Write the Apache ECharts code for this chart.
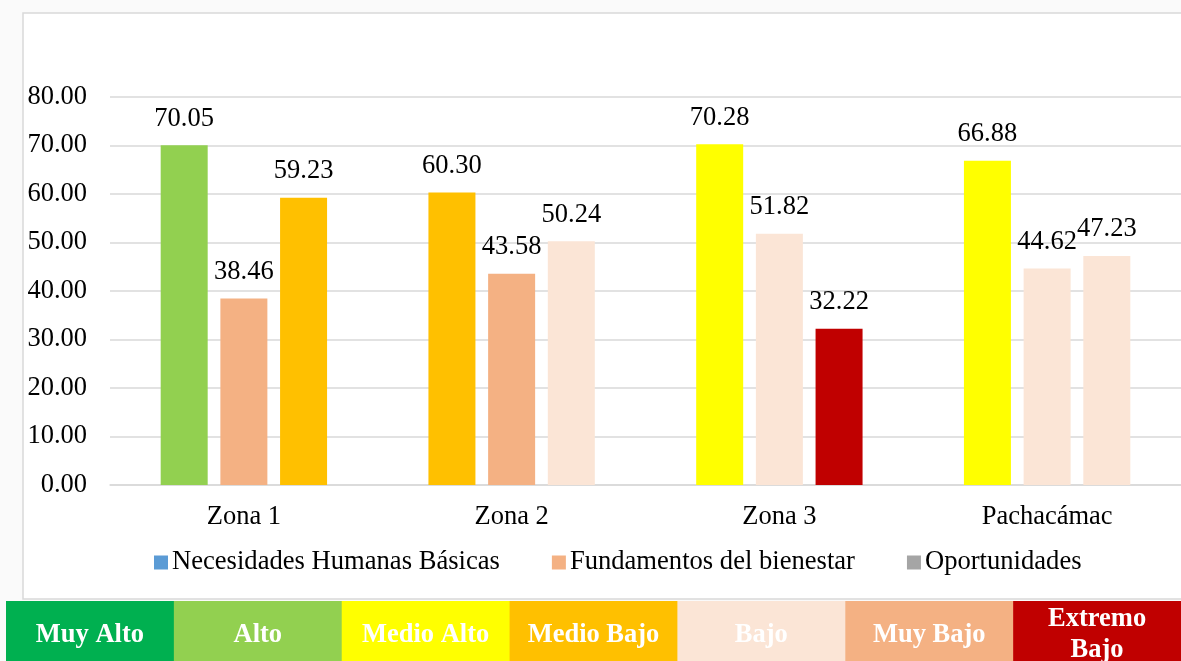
<!DOCTYPE html>
<html><head><meta charset="utf-8">
<script src="https://cdn.jsdelivr.net/npm/echarts@6/dist/echarts.min.js"></script>
<style>html,body{margin:0;padding:0;background:#fafafa;}#c{width:1181px;height:661px;}</style>
</head><body><div id="c"></div>
<script>
const categories = ['Zona 1', 'Zona 2', 'Zona 3', 'Pachacámac'];
const seriesNames = ['Necesidades Humanas Básicas', 'Fundamentos del bienestar', 'Oportunidades'];
const necesidades = [70.05, 60.30, 70.28, 66.88];
const fundamentos = [38.46, 43.58, 51.82, 44.62];
const oportunidades = [59.23, 50.24, 32.22, 47.23];
const necesidadesNivel = ['Alto', 'Medio Bajo', 'Medio Alto', 'Medio Alto'];
const fundamentosNivel = ['Muy Bajo', 'Muy Bajo', 'Bajo', 'Bajo'];
const oportunidadesNivel = ['Medio Bajo', 'Bajo', 'Extremo Bajo', 'Bajo'];
const niveles = ['Muy Alto', 'Alto', 'Medio Alto', 'Medio Bajo', 'Bajo', 'Muy Bajo', 'Extremo Bajo'];
const nivelColors = {'Muy Alto':'#00B050','Alto':'#92D050','Medio Alto':'#FFFF00','Medio Bajo':'#FFC000','Bajo':'#FBE5D6','Muy Bajo':'#F4B183','Extremo Bajo':'#C00000'};
const legendColors = ['#5B9BD5', '#F4B183', '#A5A5A5'];
const yTicks = {min: 0, max: 80, interval: 10};

const FONT = '"Liberation Serif", "Times New Roman", serif';
const chart = echarts.init(document.getElementById('c'));

function mk(name, vals, lv, color) {
  return {
    name: name, type: 'bar', barWidth: 47, barGap: '27%', color: color,
    data: vals.map((v, i) => ({value: v, itemStyle: {color: nivelColors[lv[i]]}})),
    label: {show: true, position: 'top', distance: 13, color: '#000', fontFamily: FONT, fontSize: 26.5,
      formatter: p => p.value.toFixed(2)}
  };
}

const graphics = [
  {type: 'rect', shape: {x: 23, y: 13, width: 1170, height: 586}, style: {fill: '#fff', stroke: '#d9d9d9', lineWidth: 1.5}, z: -10}
];
const boxX0 = 6, boxW = (1181 - 6) / niveles.length;
niveles.forEach((n, i) => {
  graphics.push({type: 'rect', shape: {x: boxX0 + i * boxW, y: 601, width: boxW + 0.5, height: 62}, style: {fill: nivelColors[n]}, z: 1});
  const two = n === 'Extremo Bajo';
  graphics.push({type: 'text', x: boxX0 + i * boxW + boxW / 2, y: two ? 604 : 635,
    style: {text: two ? 'Extremo\nBajo' : n, fill: '#fff', font: 'bold 26.5px ' + FONT, align: 'center',
      verticalAlign: two ? 'top' : 'middle', lineHeight: 31}, z: 2});
});

chart.setOption({
  animation: false,
  backgroundColor: 'transparent',
  graphic: graphics,
  grid: {left: 110, right: 0, top: 97, bottom: 176},
  legend: {top: 544, left: 149, itemWidth: 14, itemHeight: 14, itemGap: 52, icon: 'rect',
    textStyle: {fontFamily: FONT, fontSize: 26.6, color: '#000', padding: [0, 0, 0, -1]}, data: seriesNames},
  xAxis: {type: 'category', data: categories,
    axisLine: {lineStyle: {color: '#d9d9d9', width: 1.5}}, axisTick: {show: false},
    axisLabel: {fontFamily: FONT, fontSize: 26.5, color: '#000', margin: 19}},
  yAxis: {type: 'value', min: yTicks.min, max: yTicks.max, interval: yTicks.interval,
    axisLine: {show: false}, axisTick: {show: false},
    splitLine: {lineStyle: {color: '#d9d9d9', width: 1.5}},
    axisLabel: {fontFamily: FONT, fontSize: 26.5, color: '#000', margin: 23, formatter: v => v.toFixed(2)}},
  series: [
    mk(seriesNames[0], necesidades, necesidadesNivel, legendColors[0]),
    mk(seriesNames[1], fundamentos, fundamentosNivel, legendColors[1]),
    mk(seriesNames[2], oportunidades, oportunidadesNivel, legendColors[2])
  ]
});
</script></body></html>
